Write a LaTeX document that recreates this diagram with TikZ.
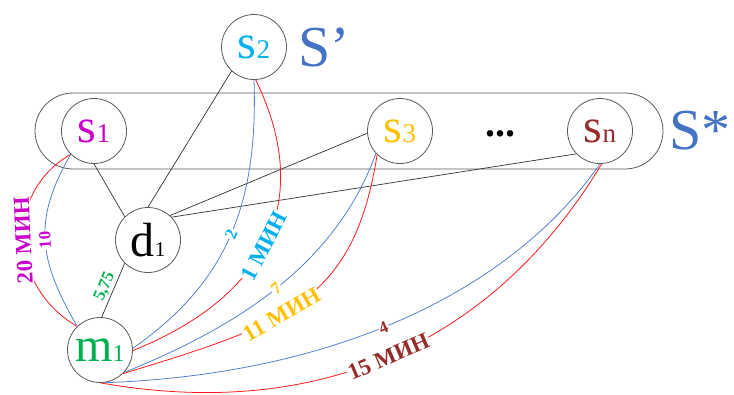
\documentclass[tikz,border=0pt]{standalone}
\usepackage{fontspec}
\setmainfont{Liberation Serif}
\newfontfamily\grm{Liberation Serif}
\definecolor{cs1}{RGB}{204,0,204}
\definecolor{cs2}{RGB}{0,176,240}
\definecolor{cs3}{RGB}{255,192,0}
\definecolor{csn}{RGB}{150,45,45}
\definecolor{cm1}{RGB}{0,176,80}
\definecolor{cset}{RGB}{68,114,196}
\definecolor{cblue}{RGB}{85,128,210}
\definecolor{cred}{RGB}{255,25,25}
\definecolor{ccirc}{RGB}{90,90,90}
\definecolor{cdark}{RGB}{50,50,50}
\newcommand{\vsub}[2][27]{{\fontsize{#1}{#1}\selectfont #2}}
\tikzset{
  gnode/.style={circle, draw=ccirc, line width=0.8pt, fill=white, minimum size=65pt, inner sep=0pt, font=\grm\fontsize{48}{50}\selectfont},
  gbox/.style={draw=ccirc, line width=0.8pt, rounded corners=38pt},
  gset/.style={text=cset, inner sep=0pt, font=\grm\fontsize{58}{58}\selectfont},
  gline/.style={draw=cdark, line width=0.7pt},
  gblue/.style={draw=cblue, line width=0.8pt},
  gred/.style={draw=cred, line width=0.8pt},
  glbl/.style={sloped, fill=white, inner sep=1pt, font=\grm\fontsize{23}{23}\selectfont\bfseries},
  gnum/.style={sloped, fill=white, inner sep=1pt, font=\grm\fontsize{17}{17}\selectfont\bfseries}
}
\begin{document}
\begin{tikzpicture}[x=1pt, y=1pt]
  \useasboundingbox (0,0) rectangle (734,-394);
  % group S*
  \draw[gbox] (35,-93) rectangle (663,-169);
  % vertices
  \node[gnode, text=cs1] (s1) at (94,-131) {s\vsub{1}};
  \node[gnode, text=cs2] (s2) at (254,-47) {s\vsub{2}};
  \node[gnode, text=cs3] (s3) at (400,-131) {s\vsub{3}};
  \node[font=\grm\fontsize{40}{40}\selectfont\bfseries] (dots) at (500,-134) {...};
  \node[gnode, text=csn] (sn) at (600,-131) {s\vsub{n}};
  \node[gnode] (d1) at (148,-240) {d\vsub[21]{1}};
  \node[gnode, text=cm1] (m1) at (100,-350) {m\vsub[24]{1}};
  % set names
  \node[gset] (sprime) at (324,-47) {S’};
  \node[gset] (sstar) at (700,-131) {S*};
  % links to d1
  \foreach \a/\b in {s1.-90/d1.135, s2.227/d1.90, s3.184/d1.48, sn.224/d1.44}
    \draw[gline] (\a) -- (\b);
  \draw[gline] (m1.87) -- (d1.225)
    node[midway, sloped, above, inner sep=2pt, text=cm1, font=\grm\fontsize{17}{17}\selectfont\bfseries] {5,75};
  % s1 -- m1
  \draw[gred, allow upside down] (m1.134) .. controls +(150:78) and +(210:78) .. (s1.225)
    node[glbl, pos=.5, text=cs1] {20 МИН};
  \draw[gblue, allow upside down] (m1.134) .. controls +(120:77) and +(240:77) .. (s1.225)
    node[gnum, pos=.5, text=cs1] {10};
  % s2 -- m1
  \draw[gblue] (m1.3) .. controls +(35:110) and +(-88:130) .. (s2.270)
    node[gnum, pos=.52, text=cs2] {2};
  \draw[gred] (m1.-1) .. controls +(22:150) and +(-64:130) .. (s2.273)
    node[glbl, pos=.47, text=cs2] {1 МИН};
  % s3 -- m1
  \draw[gblue] (m1.-43) .. controls +(22:120) and +(-110:120) .. (s3.223)
    node[gnum, pos=.5, text=cs3] {7};
  \draw[gred] (m1.-46) .. controls +(17:170) and +(-99:150) .. (s3.226)
    node[glbl, pos=.42, text=cs3] {11 МИН};
  % sn -- m1
  \draw[gblue] (m1.-85) .. controls +(2:240) and +(-125:150) .. (sn.-90)
    node[gnum, pos=.45, text=csn] {4};
  \draw[gred] (m1.-89) .. controls +(-10:250) and +(-121:180) .. (sn.-87)
    node[glbl, pos=.46, text=csn] {15 МИН};
\end{tikzpicture}
\end{document}
